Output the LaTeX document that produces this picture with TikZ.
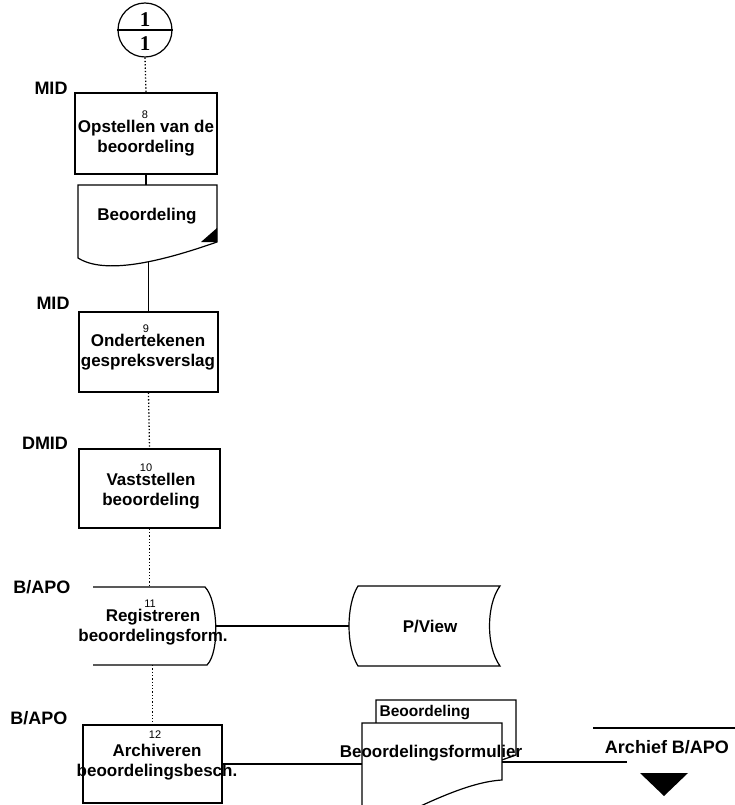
\documentclass[tikz,border=0pt]{standalone}
\usepackage{fontspec}
\setmainfont{Liberation Sans}
\newfontfamily\serifnum{Liberation Serif}
\begin{document}
\begin{tikzpicture}[x=1pt,y=-1pt,line width=1.2pt,
  box/.style={draw, rectangle, inner sep=0pt},
  txt/.style={font=\bfseries\fontsize{17}{20}\selectfont, align=center, inner sep=0pt},
  lbl/.style={font=\bfseries\fontsize{18}{20}\selectfont, inner sep=0pt},
  num/.style={font=\fontsize{11}{12}\selectfont, inner sep=0pt},
  dotline/.style={line width=1.3pt, dotted},
  flow/.style={line width=1.2pt},
  docshape/.style={draw, fill=white, line width=1.2pt}]
\useasboundingbox (0,0) rectangle (735,805);

% off-page connector
\node[draw, circle, minimum size=54pt, inner sep=0pt] (conn) at (145,30) {};
\draw (conn.west) -- (conn.east);
\node[font=\serifnum\bfseries\fontsize{21}{22}\selectfont, inner sep=0pt] (c1) at (145,20) {1};
\node[font=\serifnum\bfseries\fontsize{21}{22}\selectfont, inner sep=0pt] (c2) at (145,44) {1};

% step 8
\node[lbl] (l1) at (51,88) {MID};
\node[box, minimum width=142pt, minimum height=81pt] (b1) at (146,133.5) {};
\node[txt] (t1) at (146,138) {Opstellen van de\\beoordeling};
\node[num] (n8) at (145,115) {8};

% document Beoordeling
\draw[docshape] (78,185) -- (217,185) -- (217,242) .. controls (160,262) and (105,275) .. (78,258) -- cycle;
\fill (217,228) -- (217,242) -- (201,242) -- cycle;
\coordinate (dtop) at (146,185);
\coordinate (dbot) at (148.5,262);
\node[txt] (dt) at (147,216) {Beoordeling};

% step 9
\node[lbl] (l2) at (53,303) {MID};
\node[box, minimum width=139pt, minimum height=80pt] (b2) at (148.5,352) {};
\node[txt] (t2) at (148,352) {Ondertekenen\\gespreksverslag};
\node[num] (n9) at (146,329) {9};

% step 10
\node[lbl] (l3) at (45,443) {DMID};
\node[box, minimum width=141pt, minimum height=79pt] (b3) at (149.5,488.5) {};
\node[txt] (t3) at (151,491) {Vaststellen\\beoordeling};
\node[num] (n10) at (146,468) {10};

% step 11
\node[lbl] (l4) at (42,587) {B/APO};
\draw (93,587) -- (205,587) .. controls (218,600) and (220,652) .. (207,665) -- (93,665);
\coordinate (b4top) at (149.5,587);
\coordinate (b4bot) at (152.5,665);
\coordinate (b4right) at (215.7,626);
\node[txt] (t4) at (153,627) {Registreren\\beoordelingsform.};
\node[num] (n11) at (150,604) {11};

% P/View
\draw (358,586) -- (500,586) .. controls (486,605) and (486,647) .. (500,666) -- (358,666) .. controls (346,647) and (346,605) .. (358,586) -- cycle;
\coordinate (pvw) at (349,626);
\node[txt] (tp) at (430,627) {P/View};

% step 12
\node[lbl] (l5) at (39,718) {B/APO};
\node[box, minimum width=139pt, minimum height=78pt] (b5) at (152.5,764) {};
\node[txt] (t5) at (157,762) {Archiveren\\beoordelingsbesch.};
\node[num] (n12) at (155,735) {12};

% multi document
\draw[docshape] (376,700) -- (516,700) -- (516,755) .. controls (460,775) and (405,790) .. (376,775) -- cycle;
\node[font=\bfseries\fontsize{15.5}{18}\selectfont, inner sep=0pt, anchor=west] (bk) at (379,713) {Beoordeling};
\draw[docshape] (362,723) -- (502,723) -- (502,780) .. controls (470,782) and (430,800) .. (362,835) -- cycle;
\coordinate (fdl) at (362,764);
\coordinate (fdr) at (502,762);
\node[txt] (tf) at (431,753) {Beoordelingsformulier};

% archive
\draw (593,728) -- (735,728);
\node[font=\bfseries\fontsize{18}{20}\selectfont, inner sep=0pt] (arch) at (667,747) {Archief B/APO};
\fill (640,773) -- (688,773) -- (664,796) -- cycle;
\coordinate (archin) at (627,762);

% connectors
\draw[dotline] (conn.south) -- (b1.north);
\draw[flow] (b1.south) -- (dtop);
\draw[flow] (dbot) -- (b2.north);
\draw[dotline] (b2.south) -- (b3.north);
\draw[dotline] (b3.south) -- (b4top);
\draw[dotline] (b4bot) -- (b5.north);
\draw[flow] (b4right) -- (pvw);
\draw[flow] (b5.east) -- (fdl);
\draw[flow] (fdr) -- (archin);
\end{tikzpicture}
\end{document}
